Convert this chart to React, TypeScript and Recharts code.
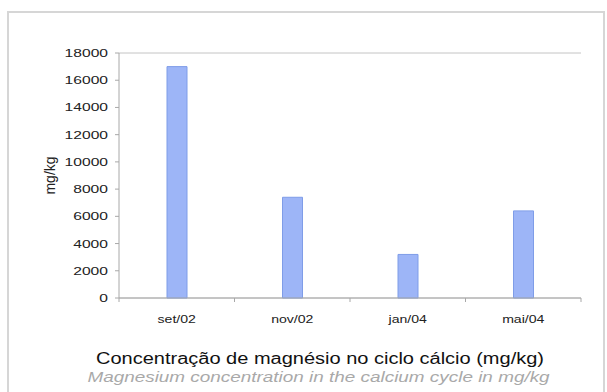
import React from "react";
import { BarChart, Bar, XAxis, YAxis, CartesianGrid } from "recharts";

// Magnesium concentration per sampling date (mg/kg)
const periods = ["set/02", "nov/02", "jan/04", "mai/04"];
const magnesium = [17000, 7400, 3200, 6400];
const yTicks = [0, 2000, 4000, 6000, 8000, 10000, 12000, 14000, 16000, 18000];

const data = periods.map((p, i) => ({ period: p, mg: magnesium[i] }));

const FONT = "Arial, 'Liberation Sans', sans-serif";
const AXIS = "#a8a8a8";

// Category tick: label under the band centre plus small marks at band edges
const CategoryTick = (props: any) => {
  const { x, y, payload, index, visibleTicksCount } = props;
  const half = payload?.offset ?? 0;
  const isLast = index === (visibleTicksCount ?? periods.length) - 1;
  return (
    <g>
      <line x1={x - half} x2={x - half} y1={298} y2={302} stroke={AXIS} />
      {isLast && <line x1={x + half} x2={x + half} y1={298} y2={302} stroke={AXIS} />}
      <text
        transform={`translate(${x},323) scale(1.28,1)`}
        x={0}
        y={0}
        textAnchor="middle"
        fontSize={11}
        fill="#222"
        fontFamily={FONT}
      >
        {payload.value}
      </text>
    </g>
  );
};

// Value tick: right-aligned number, slightly widened
const ValueTick = (props: any) => {
  const { y, payload } = props;
  return (
    <text
      transform={`translate(108,${y}) scale(1.42,1)`}
      x={0}
      y={0}
      dy="0.36em"
      textAnchor="end"
      fontSize={11}
      fill="#222"
      fontFamily={FONT}
    >
      {payload.value}
    </text>
  );
};

export default function App() {
  return (
    <div style={{ position: "absolute", left: 0, top: 0, width: 607, height: 392, overflow: "hidden", background: "#fff" }}>
      <div
        style={{
          position: "absolute",
          left: 7,
          top: 11,
          width: 598,
          height: 420,
          border: "2px solid #d6d6d6",
          boxSizing: "border-box",
        }}
      />
      <div style={{ position: "absolute", left: 0, top: 0 }}>
        <BarChart
          width={607}
          height={392}
          data={data}
          margin={{ top: 53, right: 26, bottom: 64, left: 59 }}
          barSize={20}
        >
          <CartesianGrid vertical={false} stroke="#c4c4c4" />
          <XAxis
            dataKey="period"
            height={30}
            axisLine={{ stroke: AXIS }}
            tickLine={false}
            tick={<CategoryTick />}
            interval={0}
          />
          <YAxis
            yAxisId="left"
            width={60}
            domain={[0, 18000]}
            ticks={yTicks}
            interval={0}
            axisLine={{ stroke: AXIS }}
            tickLine={{ stroke: AXIS }}
            tickSize={4}
            tick={<ValueTick />}
            label={{
              value: "mg/kg",
              angle: -90,
              position: "insideLeft",
              offset: -9,
              style: { textAnchor: "middle", fontSize: 14, fill: "#222", fontFamily: FONT },
            }}
          />
          <YAxis
            yAxisId="right"
            orientation="right"
            width={0}
            domain={[0, 18000]}
            tick={false}
            tickLine={false}
            axisLine={{ stroke: "#c4c4c4" }}
          />
          <Bar
            yAxisId="left"
            dataKey="mg"
            fill="#9db5f7"
            stroke="#7f9de8"
            strokeWidth={1}
            isAnimationActive={false}
          />
        </BarChart>
      </div>
      <div
        style={{
          position: "absolute",
          left: 0,
          width: 640,
          top: 349,
          textAlign: "center",
          fontFamily: FONT,
          fontSize: 16,
          color: "#111",
          lineHeight: "20px",
          transform: "scaleX(1.25)",
          transformOrigin: "320px 0",
        }}
      >
        Concentração de magnésio no ciclo cálcio (mg/kg)
      </div>
      <div
        style={{
          position: "absolute",
          left: 0,
          width: 637,
          top: 367,
          textAlign: "center",
          fontFamily: FONT,
          fontSize: 15,
          fontStyle: "italic",
          color: "#a9a9a9",
          lineHeight: "19px",
          transform: "scaleX(1.26)",
          transformOrigin: "318.5px 0",
        }}
      >
        Magnesium concentration in the calcium cycle in mg/kg
      </div>
    </div>
  );
}
